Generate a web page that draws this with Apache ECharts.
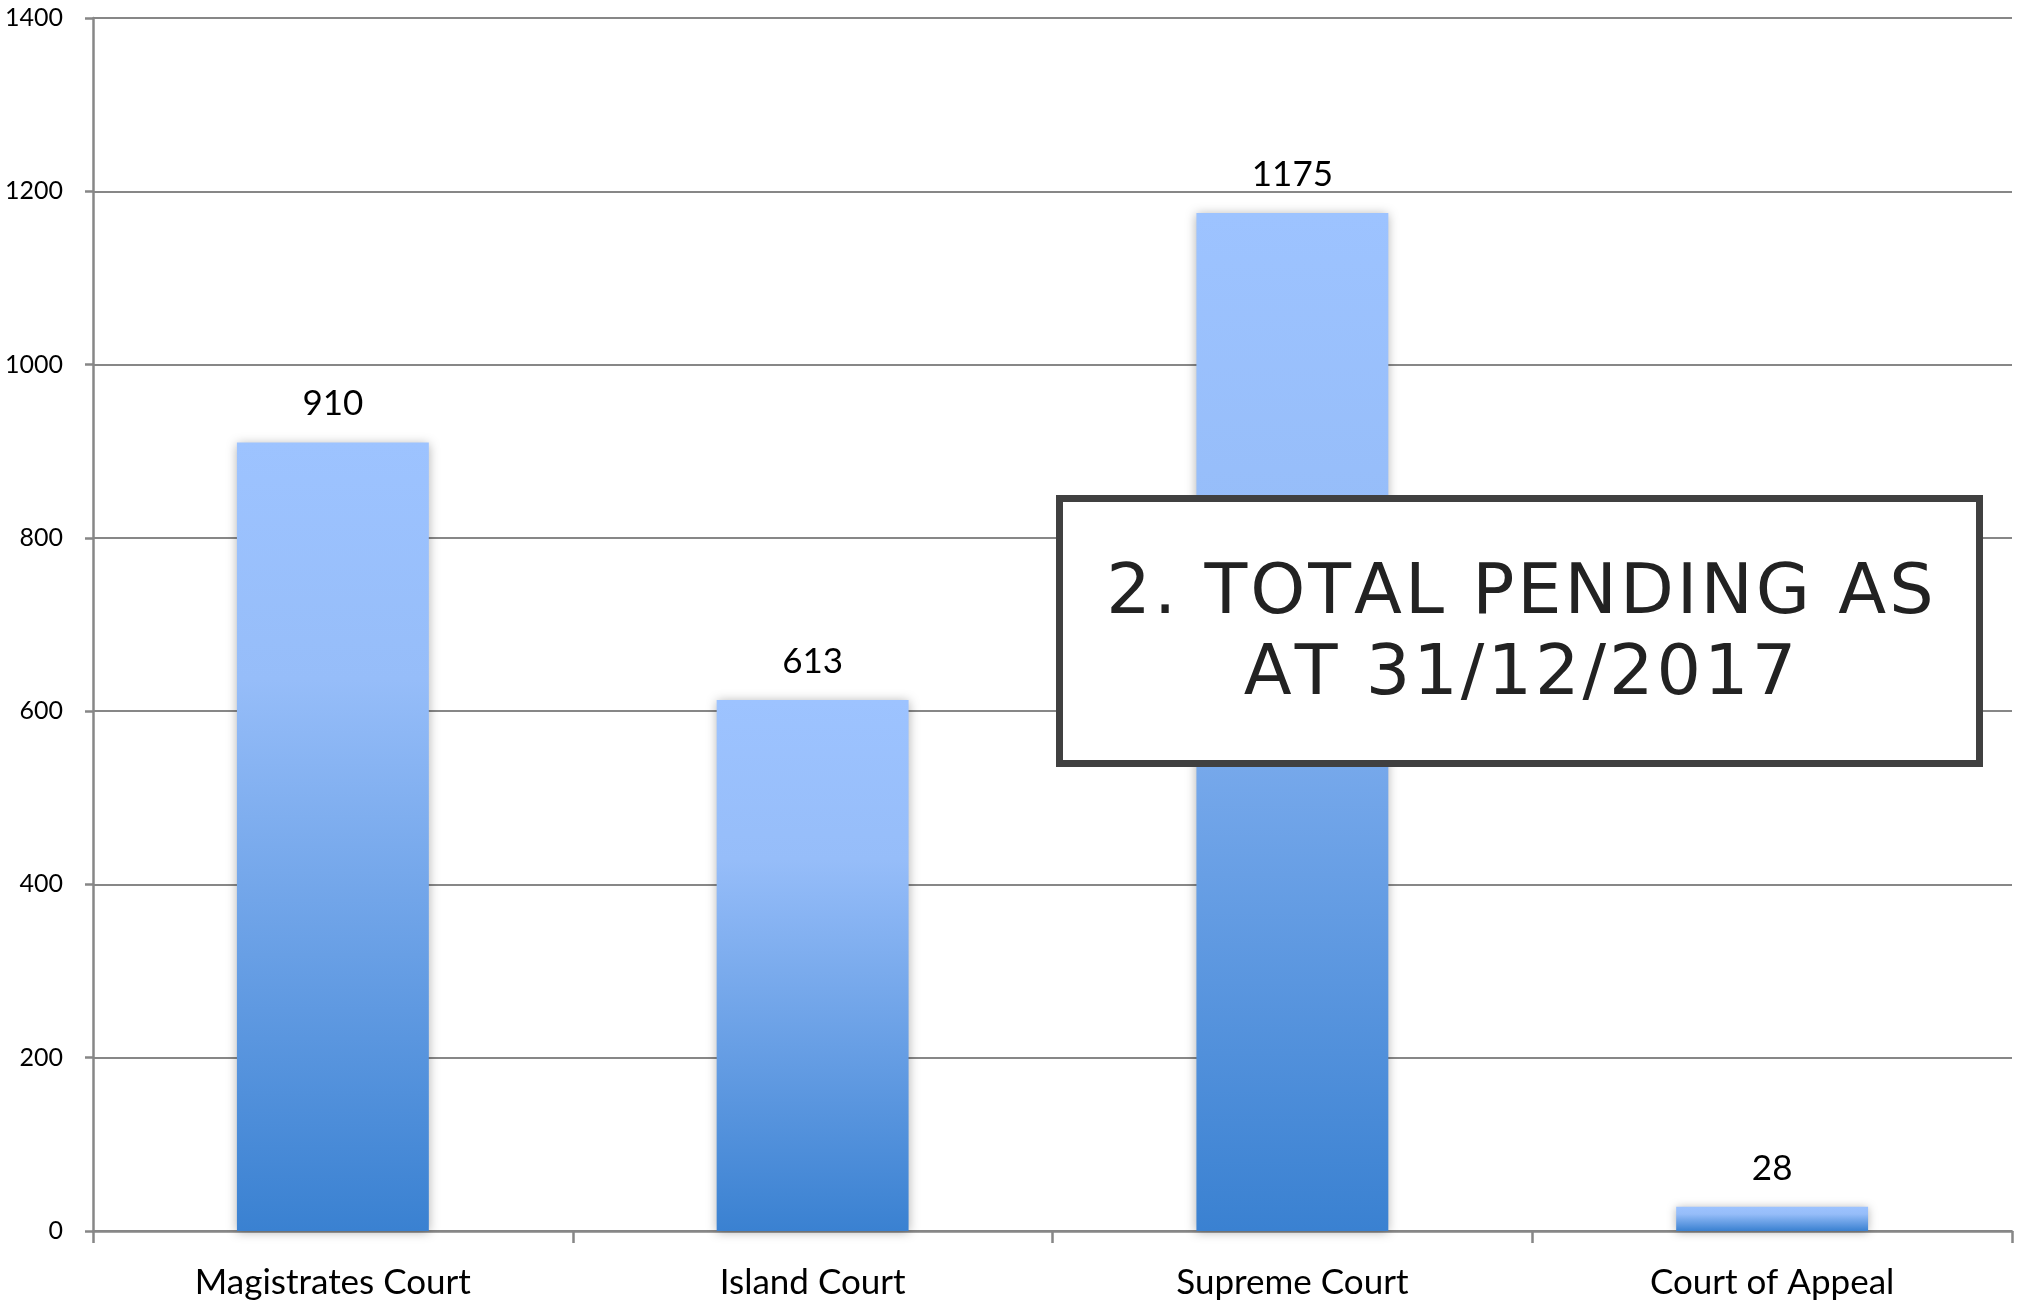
<!DOCTYPE html>
<html>
<head>
<meta charset="utf-8">
<script src="https://cdn.jsdelivr.net/npm/echarts@6/dist/echarts.min.js"></script>
<style>
  html, body { margin: 0; padding: 0; background: #fff; }
  #chart { width: 2022px; height: 1302px; }
</style>
</head>
<body>
<div id="chart"></div>
<script>
// data
const courts = ['Magistrates Court', 'Island Court', 'Supreme Court', 'Court of Appeal'];
const pending = [910, 613, 1175, 28];
const titleLines = ['2. TOTAL PENDING AS', 'AT 31/12/2017'];

const axisGray = '#878787';
const font = 'Lato, "Open Sans", sans-serif';
const titleFont = '"DejaVu Sans", Lato, sans-serif';
const titleSize = 70;
const titleSpacing = 3; // the reference letters are spaced out a little

// lay out one title line letter by letter so we can add letter spacing
function spacedLine(text, cx, cy) {
  const ctx = document.createElement('canvas').getContext('2d');
  ctx.font = titleSize + 'px ' + titleFont;
  const widths = Array.from(text).map(ch => ctx.measureText(ch).width);
  const total = widths.reduce((a, b) => a + b, 0) + titleSpacing * (widths.length - 1);
  let x = cx - total / 2;
  return Array.from(text).map((ch, i) => {
    const el = {
      type: 'text',
      z: 101,
      x: x,
      y: cy,
      style: {
        text: ch,
        fill: '#222',
        font: titleSize + 'px ' + titleFont,
        textAlign: 'left',
        textVerticalAlign: 'middle'
      }
    };
    x += widths[i] + titleSpacing;
    return el;
  });
}

const chart = echarts.init(document.getElementById('chart'));

const options = {
  backgroundColor: '#ffffff',
  animation: false,
  grid: { left: 93, right: 10, top: 18, bottom: 71 },
  xAxis: {
    type: 'category',
    data: courts,
    axisLine: { lineStyle: { color: axisGray, width: 2.5 } },
    axisTick: { show: true, length: 12, lineStyle: { color: axisGray, width: 2.5 } },
    axisLabel: { color: '#000', fontSize: 35, fontFamily: font, margin: 34 }
  },
  yAxis: {
    type: 'value',
    min: 0,
    max: 1400,
    interval: 200,
    axisLine: { show: true, lineStyle: { color: axisGray, width: 2.5 } },
    axisTick: { show: true, length: 8, lineStyle: { color: axisGray, width: 2.5 } },
    axisLabel: {
      color: '#000', fontSize: 25, fontFamily: font, margin: 30,
      formatter: v => String(v)
    },
    splitLine: { lineStyle: { color: axisGray, width: 2 } }
  },
  series: [
    {
      type: 'bar',
      data: pending,
      barWidth: '40%',
      itemStyle: {
        color: new echarts.graphic.LinearGradient(0, 0, 0, 1, [
          { offset: 0, color: '#9dc3ff' },
          { offset: 0.3, color: '#96bdf9' },
          { offset: 1, color: '#3a81d1' }
        ]),
        shadowBlur: 10,
        shadowColor: 'rgba(0,0,0,0.3)',
        shadowOffsetY: 1
      },
      label: {
        show: true,
        position: 'top',
        distance: 21,
        color: '#000',
        fontSize: 35,
        fontFamily: font
      }
    }
  ],
  graphic: [
    {
      type: 'rect',
      z: 100,
      shape: { x: 1059.5, y: 498.5, width: 920, height: 265 },
      style: { fill: '#fff', stroke: '#404040', lineWidth: 7 }
    }
  ].concat(spacedLine(titleLines[0], 1520, 595), spacedLine(titleLines[1], 1520, 676))
};

chart.setOption(options);
</script>
</body>
</html>
